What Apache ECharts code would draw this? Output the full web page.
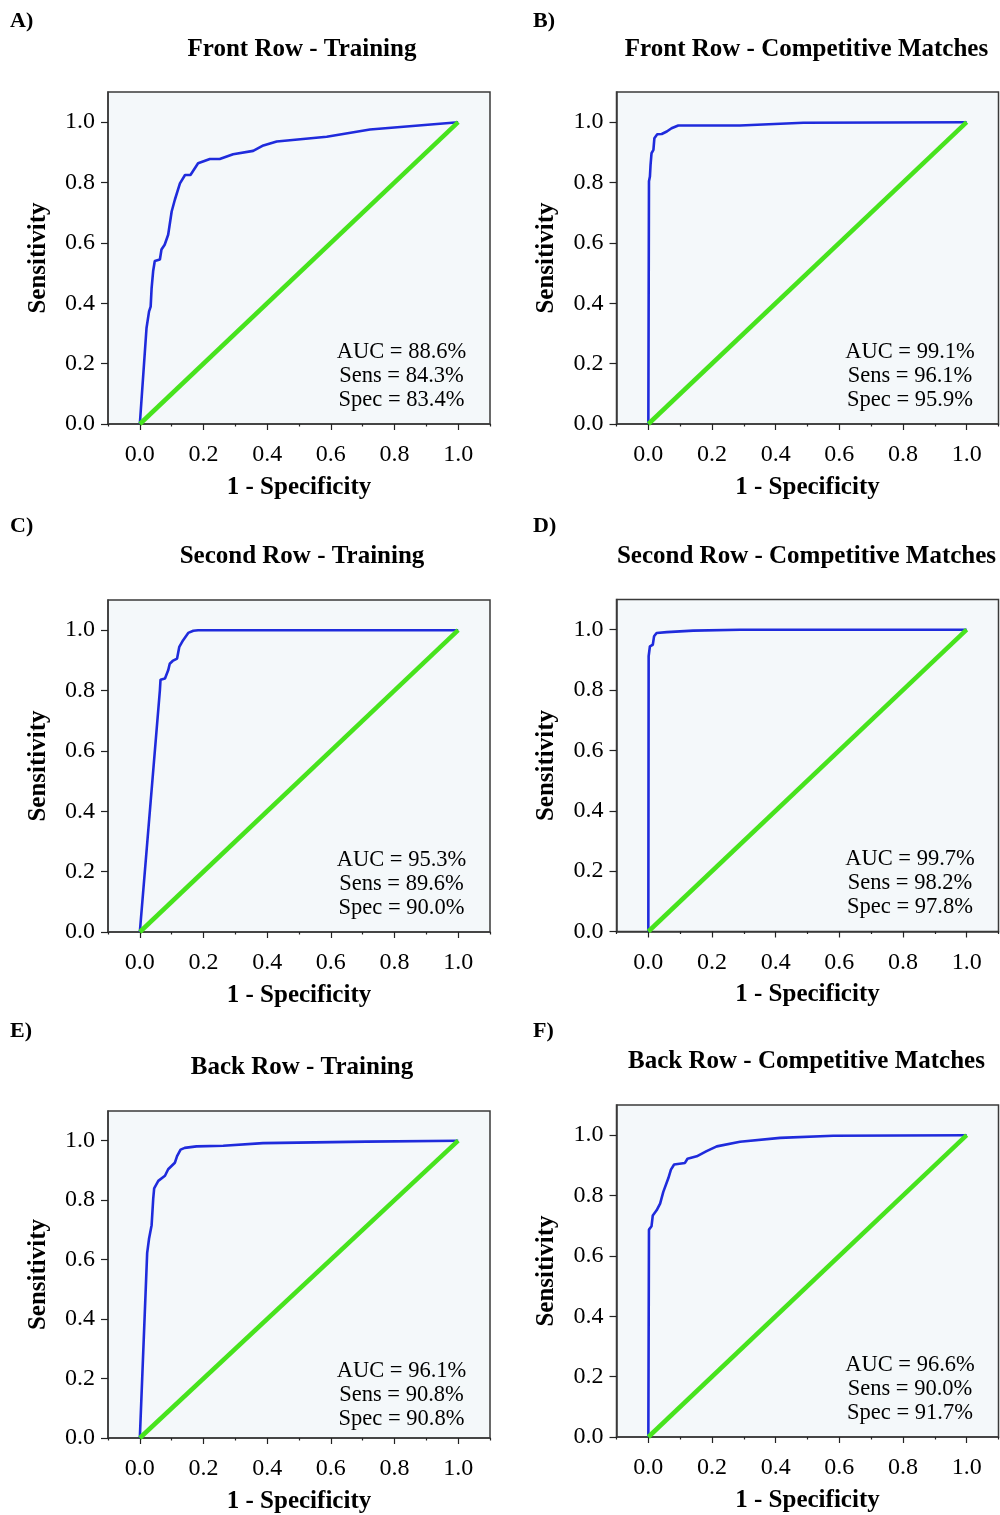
<!DOCTYPE html>
<html>
<head>
<meta charset="utf-8">
<script src="https://cdn.jsdelivr.net/npm/echarts@6/dist/echarts.min.js"></script>
<style>
html,body{margin:0;padding:0;background:#fff;}
#chart{width:1000px;height:1515px;}
</style>
</head>
<body>
<div id="chart"></div>
<script>
// ---- Data ----
const panelLetters = ['A)', 'B)', 'C)', 'D)', 'E)', 'F)'];
const panelTitles = [
  'Front Row - Training', 'Front Row - Competitive Matches',
  'Second Row - Training', 'Second Row - Competitive Matches',
  'Back Row - Training', 'Back Row - Competitive Matches'
];
const aucText = ['AUC = 88.6%', 'AUC = 99.1%', 'AUC = 95.3%', 'AUC = 99.7%', 'AUC = 96.1%', 'AUC = 96.6%'];
const sensText = ['Sens = 84.3%', 'Sens = 96.1%', 'Sens = 89.6%', 'Sens = 98.2%', 'Sens = 90.8%', 'Sens = 90.0%'];
const specText = ['Spec = 83.4%', 'Spec = 95.9%', 'Spec = 90.0%', 'Spec = 97.8%', 'Spec = 90.8%', 'Spec = 91.7%'];

const xTickLabels = [0, 0.2, 0.4, 0.6, 0.8, 1.0];
const xMinorTicks = [-0.1, 0.1, 0.3, 0.5, 0.7, 0.9, 1.1];
const yTickLabels = [0, 0.2, 0.4, 0.6, 0.8, 1.0];

// Reference (chance) line
const refFPR = [0, 1];
const refTPR = [0, 1];

// A) Front Row - Training
const frontTrainFPR = [0, 0.021, 0.029, 0.034, 0.037, 0.042, 0.047, 0.063, 0.068, 0.078, 0.089, 0.100, 0.110, 0.126, 0.142, 0.159, 0.183, 0.220, 0.251, 0.293, 0.356, 0.388, 0.430, 0.587, 0.723, 1.0];
const frontTrainTPR = [0, 0.318, 0.373, 0.389, 0.450, 0.508, 0.540, 0.545, 0.578, 0.594, 0.627, 0.704, 0.743, 0.797, 0.825, 0.825, 0.864, 0.878, 0.878, 0.894, 0.905, 0.923, 0.936, 0.952, 0.976, 1.0];
// B) Front Row - Competitive Matches
const frontMatchFPR = [0, 0.002, 0.005, 0.007, 0.010, 0.016, 0.019, 0.028, 0.042, 0.058, 0.073, 0.094, 0.288, 0.487, 1.0];
const frontMatchTPR = [0, 0.804, 0.820, 0.859, 0.897, 0.908, 0.947, 0.960, 0.961, 0.969, 0.980, 0.989, 0.989, 0.998, 1.0];
// C) Second Row - Training
const secondTrainFPR = [0, 0.063, 0.065, 0.079, 0.089, 0.094, 0.103, 0.117, 0.124, 0.136, 0.152, 0.168, 0.183, 1.0];
const secondTrainTPR = [0, 0.801, 0.836, 0.840, 0.867, 0.889, 0.898, 0.906, 0.945, 0.967, 0.991, 0.998, 1.0, 1.0];
// D) Second Row - Competitive Matches
const secondMatchFPR = [0, 0.001, 0.005, 0.014, 0.018, 0.026, 0.058, 0.141, 0.288, 1.0];
const secondMatchTPR = [0, 0.912, 0.945, 0.950, 0.978, 0.989, 0.992, 0.997, 1.0, 1.0];
// E) Back Row - Training
const backTrainFPR = [0, 0.023, 0.029, 0.037, 0.042, 0.045, 0.058, 0.079, 0.089, 0.110, 0.117, 0.128, 0.141, 0.178, 0.262, 0.387, 0.712, 1.0];
const backTrainTPR = [0, 0.622, 0.671, 0.716, 0.804, 0.840, 0.865, 0.882, 0.904, 0.926, 0.948, 0.970, 0.976, 0.981, 0.983, 0.992, 0.997, 1.0];
// F) Back Row - Competitive Matches
const backMatchFPR = [0, 0.002, 0.010, 0.014, 0.026, 0.037, 0.047, 0.063, 0.071, 0.081, 0.115, 0.123, 0.152, 0.183, 0.215, 0.288, 0.414, 0.581, 1.0];
const backMatchTPR = [0, 0.687, 0.698, 0.734, 0.751, 0.773, 0.812, 0.858, 0.886, 0.903, 0.908, 0.922, 0.930, 0.947, 0.963, 0.978, 0.991, 0.998, 1.0];

const curves = [
  [frontTrainFPR, frontTrainTPR],
  [frontMatchFPR, frontMatchTPR],
  [secondTrainFPR, secondTrainTPR],
  [secondMatchFPR, secondMatchTPR],
  [backTrainFPR, backTrainTPR],
  [backMatchFPR, backMatchTPR]
];

// ---- Layout ----
const FONT = '"Liberation Serif", "Times New Roman", serif';
const colLeft = [108, 616.5];
const gridW = 382;
const rowTops = [[92, 92], [600, 599.5], [1111, 1105]];
const gridH = 332;
const titleY = [[50, 50], [557, 557], [1068, 1062]];
const titleShift = [3, -1];
const letterY = [[21, 21], [526, 526], [1031, 1031]];
const letterX = [10, 533];

const zip = (a, b) => a.map((v, i) => [v, b[i]]);

const grids = [], xAxes = [], yAxes = [], series = [], graphics = [];
for (let i = 0; i < 6; i++) {
  const r = Math.floor(i / 2), c = i % 2;
  const left = colLeft[c], top = rowTops[r][c];
  grids.push({
    left: left, top: top, width: gridW, height: gridH,
    show: true, backgroundColor: '#f4f8fa', borderColor: '#3a3a3a', borderWidth: 1.5
  });
  xAxes.push({
    type: 'value', gridIndex: i, min: -0.1, max: 1.1, interval: 0.1,
    name: '1 - Specificity', nameLocation: 'middle', nameGap: 51,
    nameTextStyle: { fontFamily: FONT, fontWeight: 'bold', fontSize: 25, color: '#000' },
    axisLine: { show: true, onZero: false, lineStyle: { color: '#3a3a3a', width: 1.5 } },
    axisTick: { show: true, customValues: xTickLabels, length: 6, lineStyle: { color: '#222', width: 1.2 } },
    axisLabel: { customValues: xTickLabels, margin: 19, fontFamily: FONT, fontSize: 24, color: '#000', formatter: v => v.toFixed(1) },
    splitLine: { show: false }
  });
  yAxes.push({
    type: 'value', gridIndex: i, min: 0, max: 1.1, interval: 0.1,
    name: 'Sensitivity', nameLocation: 'middle', nameGap: 57,
    nameTextStyle: { fontFamily: FONT, fontWeight: 'bold', fontSize: 25, color: '#000' },
    axisLine: { show: true, onZero: false, lineStyle: { color: '#3a3a3a', width: 1.5 } },
    axisTick: { show: true, customValues: yTickLabels, length: 7, lineStyle: { color: '#222', width: 1.2 } },
    axisLabel: { customValues: yTickLabels, margin: 13, fontFamily: FONT, fontSize: 24, color: '#000', formatter: v => v.toFixed(1) },
    splitLine: { show: false }
  });
}
// minor x ticks (second x axis per grid)
for (let i = 0; i < 6; i++) {
  xAxes.push({
    type: 'value', gridIndex: i, min: -0.1, max: 1.1, interval: 0.1, position: 'bottom',
    axisLine: { show: false, onZero: false },
    axisTick: { show: true, customValues: xMinorTicks, length: 2.5, lineStyle: { color: '#222', width: 1.2 } },
    axisLabel: { show: false },
    splitLine: { show: false }
  });
}
for (let i = 0; i < 6; i++) {
  series.push({
    type: 'line', xAxisIndex: i, yAxisIndex: i, data: zip(curves[i][0], curves[i][1]),
    showSymbol: false, symbol: 'none', smooth: false,
    lineStyle: { color: '#1f2bdc', width: 2.6 }, silent: true, z: 2
  });
  series.push({
    type: 'line', xAxisIndex: i, yAxisIndex: i, data: zip(refFPR, refTPR),
    showSymbol: false, symbol: 'none',
    lineStyle: { color: '#47e31d', width: 4.5 }, silent: true, z: 3
  });
}

function txt(x, y, text, font, align) {
  return {
    type: 'text', x: x, y: y, silent: true,
    style: { text: text, font: font, fill: '#000', textAlign: align, textVerticalAlign: 'middle', align: align, verticalAlign: 'middle' }
  };
}
for (let i = 0; i < 6; i++) {
  const r = Math.floor(i / 2), c = i % 2;
  const left = colLeft[c], top = rowTops[r][c];
  const x0 = left + gridW / 1.2 * 0.1;
  const xScale = gridW / 1.2;
  const base = top + gridH;
  graphics.push(txt(letterX[c], letterY[r][c], panelLetters[i], 'bold 22px ' + FONT, 'left'));
  graphics.push(txt(x0 + 0.5 * xScale + titleShift[c], titleY[r][c], panelTitles[i], 'bold 25px ' + FONT, 'center'));
  const cx = x0 + 0.822 * xScale;
  graphics.push(txt(cx, base - 72, aucText[i], '22.5px ' + FONT, 'center'));
  graphics.push(txt(cx, base - 48, sensText[i], '22.5px ' + FONT, 'center'));
  graphics.push(txt(cx, base - 24, specText[i], '22.5px ' + FONT, 'center'));
}

const chart = echarts.init(document.getElementById('chart'), null, { renderer: 'canvas' });
chart.setOption({
  animation: false,
  backgroundColor: '#ffffff',
  grid: grids,
  xAxis: xAxes,
  yAxis: yAxes,
  series: series,
  graphic: graphics
});
</script>
</body>
</html>
